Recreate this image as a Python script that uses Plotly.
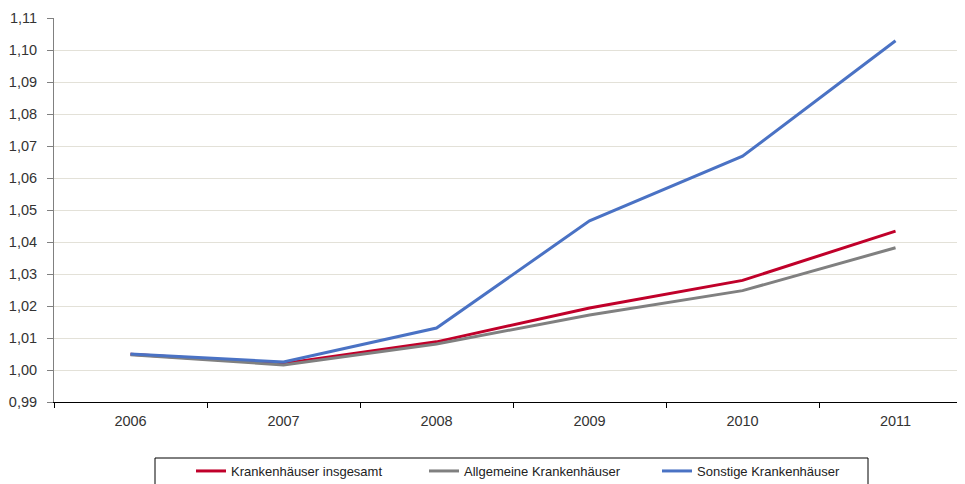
import plotly.graph_objects as go

years = ["2006", "2007", "2008", "2009", "2010", "2011"]
insgesamt = [1.0049, 1.0020, 1.0088, 1.0194, 1.0280, 1.0434]
allgemeine = [1.0048, 1.0016, 1.0081, 1.0172, 1.0248, 1.0382]
sonstige = [1.0050, 1.0025, 1.0131, 1.0466, 1.0668, 1.1029]

names = ["Krankenhäuser insgesamt", "Allgemeine Krankenhäuser", "Sonstige Krankenhäuser"]
colors = ["#C0002A", "#808080", "#4A72C4"]
series = [insgesamt, allgemeine, sonstige]

fig = go.Figure()
for n, c, s in zip(names, colors, series):
    fig.add_trace(go.Scatter(x=years, y=s, name=n, mode="lines",
                             line=dict(color=c, width=3)))

# page body has an 8px margin; figure is sized so the page fills 965x484
FW, FH = 957, 476
L, T, W, H = 46, 10, 911, 384

def px(xr):  # reference-picture x -> paper
    return (xr - 8 - L) / W

def py(yr):  # reference-picture y -> paper
    return (T + H - (yr - 8)) / H

fig.update_layout(
    width=FW, height=FH,
    margin=dict(l=L, r=FW - L - W, t=T, b=FH - T - H, autoexpand=False),
    paper_bgcolor="white", plot_bgcolor="white",
    separators=",.",
    font=dict(family="Liberation Sans, Arial", size=14, color="#333333"),
    showlegend=True,
    legend=dict(orientation="h", x=px(191), xanchor="left", y=py(456), yanchor="top",
                borderwidth=0, bgcolor="rgba(0,0,0,0)",
                font=dict(size=13, color="#222222"),
                entrywidth=188, entrywidthmode="pixels",
                traceorder="normal"),
    shapes=[dict(type="rect", xref="paper", yref="paper",
                 x0=px(155), x1=px(868), y0=py(495), y1=py(458),
                 line=dict(color="#000000", width=1), fillcolor="rgba(0,0,0,0)")],
)
fig.update_xaxes(type="category", range=[-0.5, 5.454], showgrid=False, automargin=False,
                 showline=True, linecolor="#000000", linewidth=1,
                 ticks="outside", tickson="boundaries", ticklen=5, tickcolor="#000000",
                 ticklabelstandoff=6,
                 tickfont=dict(size=14.5, color="#333333"))
fig.update_yaxes(range=[0.99, 1.11], dtick=0.01, tick0=0.99, tickformat=".2f", automargin=False,
                 showgrid=True, gridcolor="#E3E1D8", gridwidth=1,
                 showline=True, linecolor="#808080", linewidth=1,
                 ticks="outside", ticklen=6, tickcolor="#808080",
                 ticklabelstandoff=7,
                 zeroline=False,
                 tickfont=dict(size=14.5, color="#333333"))

fig.write_html("out.html")
